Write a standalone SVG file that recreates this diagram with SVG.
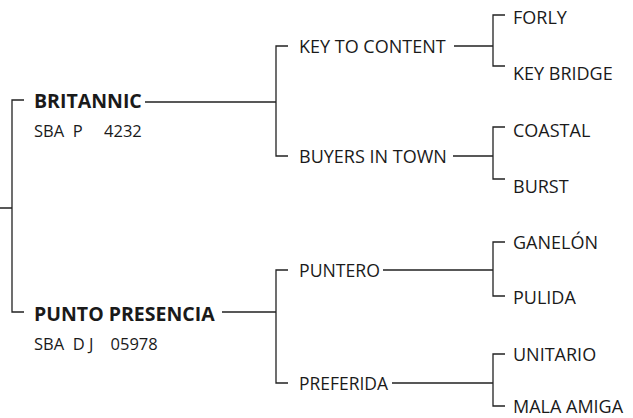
<svg xmlns="http://www.w3.org/2000/svg" width="633" height="418" viewBox="0 0 633 418">
<style>
text{font-family:"Open Sans","Liberation Sans",sans-serif;fill:#1a1a1a;font-size:18px}
.b{font-weight:bold;font-size:19.5px}
.s{font-size:16.5px}
.c path{stroke:#222;stroke-width:1.3;fill:none}
</style>
<rect width="633" height="418" fill="#fff"/>
<g class="c" id="connectors">
<path d="M0 208H12M24 100H12V312H24"/>
<path d="M145 102H276M288 46H276V156H288"/>
<path d="M222 312H276M288 270H276V383H288"/>
<path d="M454 46H493M505 15H493V66H505"/>
<path d="M453 156H493M505 127H493V179H505"/>
<path d="M383 270H493M505 242H493V296H505"/>
<path d="M392 383H493M505 354H493V406H505"/>
</g>
<g id="britannic"><text class="b" x="34" y="108">BRITANNIC</text><text class="s" x="34" y="137" xml:space="preserve">SBA  P     4232</text></g>
<g id="punto"><text class="b" x="34" y="321">PUNTO PRESENCIA</text><text class="s" x="34" y="350" xml:space="preserve">SBA  D J    05978</text></g>
<g id="key"><text x="299" y="53">KEY TO CONTENT</text></g>
<g id="buyers"><text x="299" y="163">BUYERS IN TOWN</text></g>
<g id="puntero"><text x="299" y="277" textLength="81" lengthAdjust="spacingAndGlyphs">PUNTERO</text></g>
<g id="preferida"><text x="299" y="390" textLength="89" lengthAdjust="spacingAndGlyphs">PREFERIDA</text></g>
<g id="forly"><text x="513" y="24">FORLY</text></g>
<g id="keybridge"><text x="513" y="80">KEY BRIDGE</text></g>
<g id="coastal"><text x="513" y="137">COASTAL</text></g>
<g id="burst"><text x="513" y="193">BURST</text></g>
<g id="ganelon"><text x="513" y="249">GANELÓN</text></g>
<g id="pulida"><text x="513" y="304">PULIDA</text></g>
<g id="unitario"><text x="513" y="361">UNITARIO</text></g>
<g id="malaamiga"><text x="513" y="413">MALA AMIGA</text></g>
</svg>
